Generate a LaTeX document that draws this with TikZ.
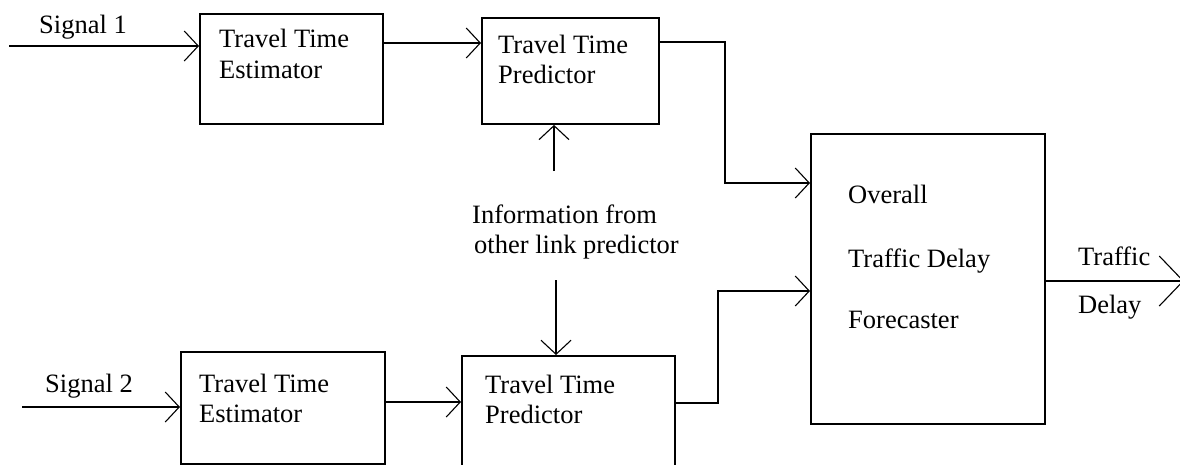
\documentclass[tikz,border=0pt]{standalone}
\usepackage{fontspec}
\setmainfont{Liberation Serif}
\usetikzlibrary{arrows.meta,calc}
\begin{document}
\begin{tikzpicture}[x=1pt,y=-1pt,
  blk/.style={draw,line width=1.9pt,inner sep=0pt,anchor=north west},
  arr/.style={line width=1.7pt,-{Straight Barb[length=14pt,width=30pt,line width=1.1pt]}},
  bigarr/.style={line width=1.7pt,-{Straight Barb[length=24pt,width=50pt,line width=1.1pt]}},
  txt/.style={anchor=base west,inner sep=0pt,font=\fontsize{26.5pt}{31pt}\selectfont}]
\useasboundingbox (0,0) rectangle (1180,464);
\clip (0,0) rectangle (1180,464);

% blocks
\node[blk,minimum width=183pt,minimum height=110pt] (est1) at (199,13) {};
\node[blk,minimum width=177pt,minimum height=106pt] (pred1) at (481,17) {};
\node[blk,minimum width=204pt,minimum height=112pt] (est2) at (180,351) {};
\node[blk,minimum width=213pt,minimum height=125pt] (pred2) at (461,355) {};
\node[blk,minimum width=234pt,minimum height=290pt] (overall) at (810,133) {};

% texts
\node[txt] (s1t) at (39,33) {Signal 1};
\node[txt] (e1a) at (219,47) {Travel Time};
\node[txt] (e1b) at (219,78) {Estimator};
\node[txt] (p1a) at (498,53) {Travel Time};
\node[txt] (p1b) at (498,83) {Predictor};
\node[txt] (s2t) at (45,392) {Signal 2};
\node[txt] (e2a) at (199,392) {Travel Time};
\node[txt] (e2b) at (199,422) {Estimator};
\node[txt] (p2a) at (485,393) {Travel Time};
\node[txt] (p2b) at (485,423) {Predictor};
\node[txt] (inf1) at (472,223) {Information from};
\node[txt] (inf2) at (474,253) {other link predictor};
\node[txt] (o1) at (848,203) {Overall};
\node[txt] (o2) at (848,267) {Traffic Delay};
\node[txt] (o3) at (848,328) {Forecaster};
\node[txt] (out1) at (1078,265) {Traffic};
\node[txt] (out2) at (1078,313) {Delay};

% connectors
\coordinate (sig1) at (9,46);
\draw[arr] (sig1) -- (sig1 -| est1.west);

\coordinate (a1) at ($(est1.north east)+(0,30)$);
\draw[arr] (a1) -- (a1 -| pred1.west);

\coordinate (b1) at ($(pred1.north east)+(0,25)$);
\coordinate (b1t) at ($(overall.north west)+(0,50)$);
\draw[arr] (b1) -- ++(65,0) |- (b1t);

\coordinate (sig2) at (22,407);
\draw[arr] (sig2) -- (sig2 -| est2.west);

\coordinate (a2) at ($(est2.north east)+(0,51)$);
\draw[arr] (a2) -- (a2 -| pred2.west);

\coordinate (b2) at ($(pred2.north east)+(0,48)$);
\coordinate (b2t) at ($(overall.north west)+(0,158)$);
\draw[arr] (b2) -- ++(42,0) |- (b2t);

\coordinate (up) at (554,171);
\draw[arr] (up) -- (up |- pred1.south);
\coordinate (dn) at (556,280);
\draw[arr] (dn) -- (dn |- pred2.north);

\coordinate (c1) at ($(overall.north east)+(0,148)$);
\coordinate (outend) at (1184,281);
\draw[bigarr] (c1) -- (outend);
\end{tikzpicture}
\end{document}
